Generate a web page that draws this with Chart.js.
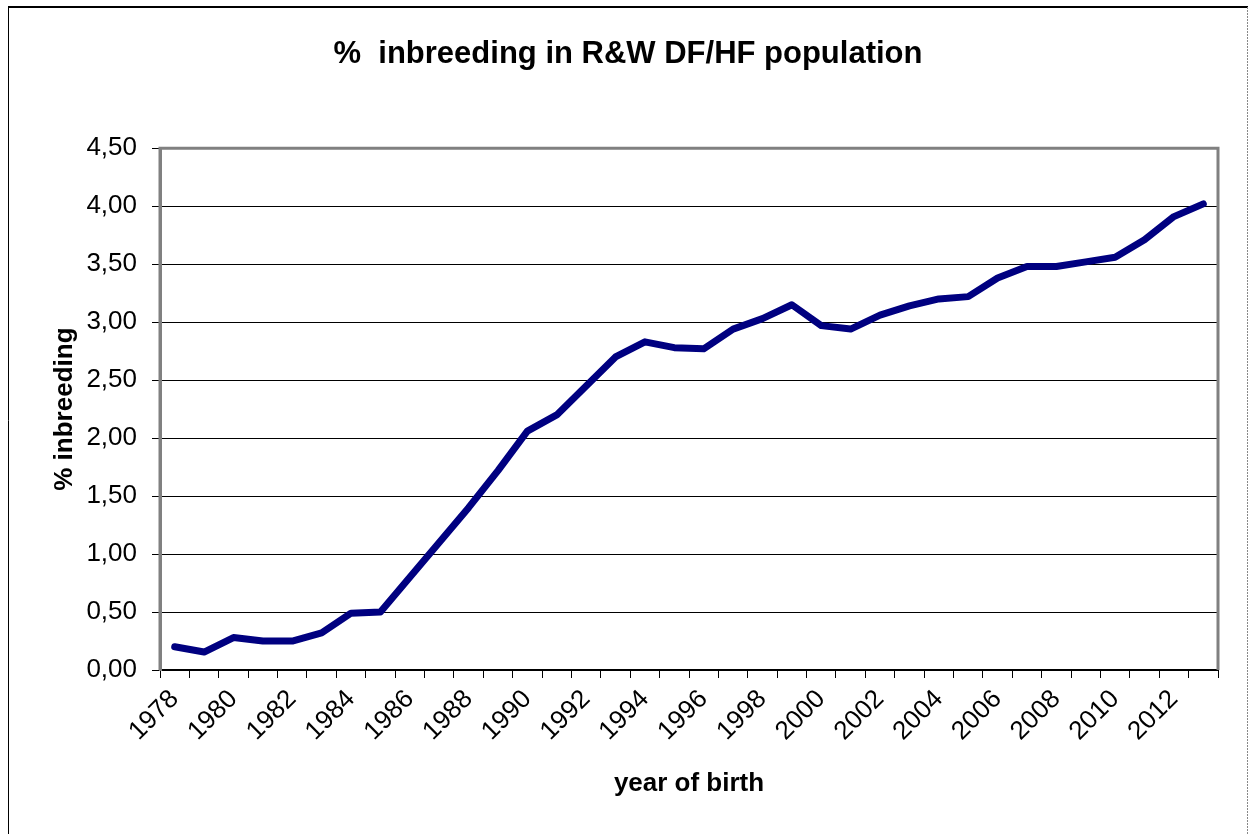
<!DOCTYPE html>
<html>
<head>
<meta charset="utf-8">
<title>% inbreeding in R&amp;W DF/HF population</title>
<script src="https://cdn.jsdelivr.net/npm/chart.js@4/dist/chart.umd.min.js"></script>
<style>
  body { margin: 0; background: #fff; }
  #wrap { width: 1255px; height: 834px; }
</style>
</head>
<body>
<div id="wrap"><canvas id="myChart" width="1255" height="834"></canvas></div>
<script>
// data
const years = ['1978', '1979', '1980', '1981', '1982', '1983', '1984', '1985', '1986', '1987',
  '1988', '1989', '1990', '1991', '1992', '1993', '1994', '1995', '1996', '1997',
  '1998', '1999', '2000', '2001', '2002', '2003', '2004', '2005', '2006', '2007',
  '2008', '2009', '2010', '2011', '2012', '2013'];
const inbreeding = [0.20, 0.155, 0.28, 0.25, 0.25, 0.32, 0.49, 0.50, 0.80, 1.10,
  1.40, 1.72, 2.06, 2.20, 2.45, 2.70, 2.83, 2.78, 2.77, 2.94,
  3.03, 3.15, 2.97, 2.94, 3.06, 3.14, 3.20, 3.22, 3.38, 3.48,
  3.48, 3.52, 3.56, 3.71, 3.91, 4.02];
const shownYears = ['1978', '1980', '1982', '1984', '1986', '1988', '1990', '1992', '1994',
  '1996', '1998', '2000', '2002', '2004', '2006', '2008', '2010', '2012'];
const yTickLabels = ['0,00', '0,50', '1,00', '1,50', '2,00', '2,50', '3,00', '3,50', '4,00', '4,50'];

const fontFamily = '"Liberation Sans", Arial, sans-serif';

// outer chart box (white page, thin frame)
const outerBox = {
  id: 'outerBox',
  beforeDraw(chart) {
    const ctx = chart.ctx;
    ctx.save();
    ctx.fillStyle = '#fff';
    ctx.fillRect(0, 0, chart.width, chart.height);
    ctx.strokeStyle = '#000';
    ctx.lineWidth = 2;
    ctx.beginPath();
    ctx.moveTo(8, 7);
    ctx.lineTo(1248, 7);
    ctx.stroke();
    ctx.lineWidth = 1;
    ctx.beginPath();
    ctx.moveTo(8.5, 7);
    ctx.lineTo(8.5, chart.height);
    ctx.stroke();
    ctx.strokeStyle = '#888';
    ctx.setLineDash([2, 1]);
    ctx.beginPath();
    ctx.moveTo(1247.5, 7);
    ctx.lineTo(1247.5, chart.height);
    ctx.stroke();
    ctx.restore();
  }
};

// gray plot frame (top, left, right)
const plotFrame = {
  id: 'plotFrame',
  beforeDatasetsDraw(chart) {
    const {ctx, chartArea: a} = chart;
    ctx.save();
    ctx.strokeStyle = '#808080';
    ctx.lineWidth = 3;
    ctx.beginPath();
    ctx.moveTo(a.left, a.bottom);
    ctx.lineTo(a.left, a.top);
    ctx.lineTo(a.right, a.top);
    ctx.lineTo(a.right, a.bottom);
    ctx.stroke();
    ctx.restore();
  }
};

const ctx = document.getElementById('myChart').getContext('2d');
new Chart(ctx, {
  type: 'line',
  data: {
    labels: years,
    datasets: [{
      label: '% inbreeding',
      data: inbreeding,
      borderColor: '#000080',
      backgroundColor: '#000080',
      borderWidth: 7,
      borderCapStyle: 'round',
      borderJoinStyle: 'round',
      pointRadius: 0,
      tension: 0,
      fill: false
    }]
  },
  options: {
    responsive: false,
    animation: false,
    layout: { padding: { left: 38, right: 37, top: 0, bottom: 0 } },
    plugins: {
      legend: { display: false },
      tooltip: { enabled: false },
      title: {
        display: true,
        text: '%  inbreeding in R&W DF/HF population',
        color: '#000',
        font: { family: fontFamily, size: 31, weight: 'bold' },
        padding: { top: 36, bottom: 75 }
      }
    },
    scales: {
      x: {
        offset: true,
        grid: {
          offset: true,
          drawOnChartArea: false,
          drawTicks: true,
          tickLength: 8,
          tickColor: '#000',
          tickWidth: 1
        },
        border: { color: '#000', width: 2 },
        ticks: {
          autoSkip: false,
          maxRotation: 45,
          minRotation: 45,
          padding: 6,
          color: '#000',
          font: { family: fontFamily, size: 26 },
          callback: function (value, index) {
            const y = years[index];
            return shownYears.includes(y) ? y : '';
          }
        },
        title: {
          display: true,
          text: 'year of birth',
          color: '#000',
          font: { family: fontFamily, size: 26, weight: 'bold' },
          padding: { top: 0, bottom: 35 }
        },
        afterFit(scale) { scale.height = 164; }
      },
      y: {
        min: 0,
        max: 4.5,
        grid: {
          color: '#000',
          lineWidth: 1,
          tickLength: 8,
          tickColor: '#000'
        },
        border: { color: '#808080', width: 3 },
        ticks: {
          stepSize: 0.5,
          padding: 15,
          color: '#000',
          font: { family: fontFamily, size: 26 },
          callback: function (value, index) { return yTickLabels[index]; }
        },
        title: {
          display: true,
          text: '% inbreeding',
          color: '#000',
          font: { family: fontFamily, size: 26, weight: 'bold' },
          padding: { top: 11, bottom: 0 }
        },
        afterFit(scale) { scale.width = 122; }
      }
    }
  },
  plugins: [outerBox, plotFrame]
});
</script>
</body>
</html>
